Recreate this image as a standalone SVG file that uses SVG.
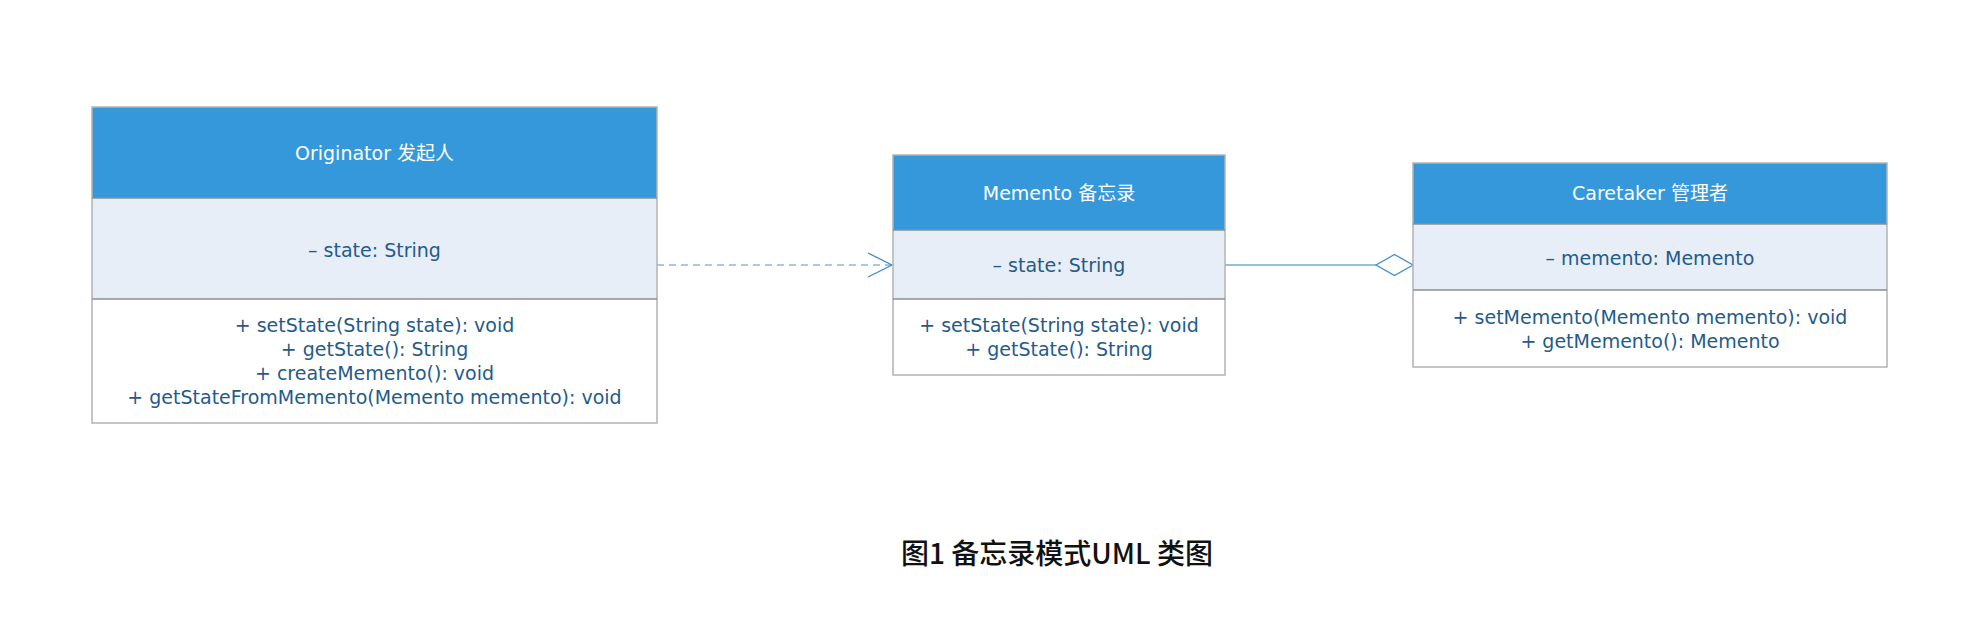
<svg xmlns="http://www.w3.org/2000/svg" width="1980" height="638" viewBox="0 0 1980 638">
<defs>
<style>
.box{stroke:#b3b3b3;stroke-width:1.5}
.hdr{fill:#3598db}
.attr{fill:#e8eef8}
.meth{fill:#ffffff}
.sep{stroke:#8e8e8e;stroke-width:1.5}
.t{font-family:"DejaVu Sans","Noto Sans CJK SC",sans-serif;font-size:19px;text-anchor:middle;dominant-baseline:central}
.tt{fill:#ffffff}
.tb{fill:#1f5b8b}
.cap{font-family:"Noto Sans CJK SC","Noto Sans",sans-serif;font-size:28px;font-weight:500;fill:#111111;text-anchor:middle;dominant-baseline:central}
.dash{stroke:#8ab8dc;stroke-width:1.5;stroke-dasharray:7 5;fill:none}
.solid{stroke:#7aa9cf;stroke-width:1.5;fill:none}
.head{stroke:#3d8cca;stroke-width:1.3;fill:none}
.dia{stroke:#3d8cca;stroke-width:1.3;fill:#ffffff}
</style>
</defs>
<rect width="1980" height="638" fill="#ffffff"/>
<g id="connectors">
<line class="dash" x1="657" y1="265" x2="892" y2="265"/>
<polyline class="head" points="868,253 892,265 868,277"/>
<line class="solid" x1="1225" y1="265" x2="1376" y2="265"/>
<polygon class="dia" points="1376,265 1394.5,254.5 1413,265 1394.5,275.5"/>
</g>
<g id="originator">
<rect class="hdr" x="92" y="107" width="565" height="91"/>
<rect class="attr" x="92" y="198" width="565" height="101"/>
<rect class="meth" x="92" y="299" width="565" height="124"/>
<rect class="box" x="92" y="107" width="565" height="316" fill="none"/>
<line class="sep" x1="92" y1="198" x2="657" y2="198"/>
<line class="sep" x1="92" y1="299" x2="657" y2="299"/>
<text class="t tt" x="374.5" y="153">Originator 发起人</text>
<text class="t tb" x="374.5" y="250">– state: String</text>
<text class="t tb" x="374.5" y="325">+ setState(String state): void</text>
<text class="t tb" x="374.5" y="349">+ getState(): String</text>
<text class="t tb" x="374.5" y="373">+ createMemento(): void</text>
<text class="t tb" x="374.5" y="397">+ getStateFromMemento(Memento memento): void</text>
</g>
<g id="memento">
<rect class="hdr" x="893" y="155" width="332" height="75"/>
<rect class="attr" x="893" y="230" width="332" height="69"/>
<rect class="meth" x="893" y="299" width="332" height="76"/>
<rect class="box" x="893" y="155" width="332" height="220" fill="none"/>
<line class="sep" x1="893" y1="230" x2="1225" y2="230"/>
<line class="sep" x1="893" y1="299" x2="1225" y2="299"/>
<text class="t tt" x="1059" y="193">Memento 备忘录</text>
<text class="t tb" x="1059" y="265">– state: String</text>
<text class="t tb" x="1059" y="325">+ setState(String state): void</text>
<text class="t tb" x="1059" y="349">+ getState(): String</text>
</g>
<g id="caretaker">
<rect class="hdr" x="1413" y="163" width="474" height="61"/>
<rect class="attr" x="1413" y="224" width="474" height="66"/>
<rect class="meth" x="1413" y="290" width="474" height="77"/>
<rect class="box" x="1413" y="163" width="474" height="204" fill="none"/>
<line class="sep" x1="1413" y1="224" x2="1887" y2="224"/>
<line class="sep" x1="1413" y1="290" x2="1887" y2="290"/>
<text class="t tt" x="1650" y="193">Caretaker 管理者</text>
<text class="t tb" x="1650" y="258">– memento: Memento</text>
<text class="t tb" x="1650" y="317">+ setMemento(Memento memento): void</text>
<text class="t tb" x="1650" y="341">+ getMemento(): Memento</text>
</g>
<g id="caption">
<text class="cap" x="1057" y="552">图1 备忘录模式UML 类图</text>
</g>
</svg>
